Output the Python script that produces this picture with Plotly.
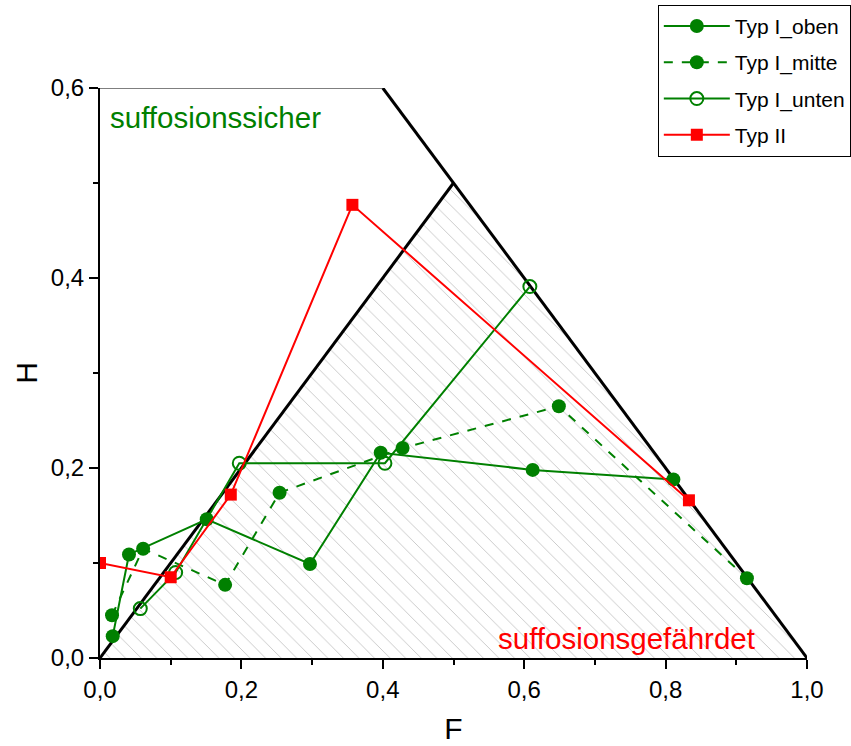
import plotly.graph_objects as go

# Measured points (F, H) for each soil type
F_OBEN = [0.018, 0.041, 0.151, 0.297, 0.397, 0.612, 0.811]
H_OBEN = [0.023, 0.109, 0.146, 0.099, 0.216, 0.198, 0.188]

F_MITTE = [0.017, 0.061, 0.177, 0.254, 0.428, 0.649, 0.915]
H_MITTE = [0.045, 0.115, 0.077, 0.174, 0.221, 0.265, 0.084]

F_UNTEN = [0.057, 0.107, 0.197, 0.403, 0.608]
H_UNTEN = [0.052, 0.090, 0.205, 0.205, 0.391]

F_TYP2 = [0.000, 0.100, 0.185, 0.357, 0.833]
H_TYP2 = [0.100, 0.085, 0.172, 0.477, 0.166]

# Domain boundaries of the F-H diagram
HATCH_F = [0.0, 0.5, 1.0, 0.0]
HATCH_H = [0.0, 0.5, 0.0, 0.0]
DIVIDER_F = [0.0, 0.5]
DIVIDER_H = [0.0, 0.5]
LIMIT_F = [0.4, 1.0]
LIMIT_H = [0.6, 0.0]
TOP_F = [0.0, 0.4]
TOP_H = [0.6, 0.6]

X_TICKS = [0.0, 0.2, 0.4, 0.6, 0.8, 1.0]
Y_TICKS = [0.0, 0.2, 0.4, 0.6]

GREEN = "#008000"
RED = "#ff0000"
FONT = "Liberation Sans, Arial, sans-serif"

fig = go.Figure()

# hatched "suffosion-prone" triangle
fig.add_trace(go.Scatter(
    x=HATCH_F, y=HATCH_H, mode="lines", fill="toself",
    line=dict(width=0), fillcolor="rgba(0,0,0,0)",
    fillpattern=dict(shape="\\", size=11, solidity=0.08,
                     fgcolor="#c4c4c4", bgcolor="white", fgopacity=1),
    showlegend=False, hoverinfo="skip"))

for fx, hy, w in [(DIVIDER_F, DIVIDER_H, 3), (LIMIT_F, LIMIT_H, 3), (TOP_F, TOP_H, 1.2)]:
    fig.add_trace(go.Scatter(x=fx, y=hy, mode="lines",
                             line=dict(color="black", width=w),
                             showlegend=False, hoverinfo="skip"))

fig.add_trace(go.Scatter(
    x=F_OBEN, y=H_OBEN, mode="lines+markers", name="Typ I_oben",
    line=dict(color=GREEN, width=2),
    marker=dict(symbol="circle", size=14, color=GREEN),
    legendgroup="a"))
fig.add_trace(go.Scatter(
    x=F_MITTE, y=H_MITTE, mode="lines+markers", name="Typ I_mitte",
    line=dict(color=GREEN, width=2, dash="dash"),
    marker=dict(symbol="circle", size=14, color=GREEN),
    legendgroup="b"))
fig.add_trace(go.Scatter(
    x=F_UNTEN, y=H_UNTEN, mode="lines+markers", name="Typ I_unten",
    line=dict(color=GREEN, width=2),
    marker=dict(symbol="circle-open", size=13, color=GREEN, line=dict(width=2)),
    legendgroup="c"))
fig.add_trace(go.Scatter(
    x=F_TYP2, y=H_TYP2, mode="lines+markers", name="Typ II",
    line=dict(color=RED, width=2),
    marker=dict(symbol="square", size=12, color=RED),
    legendgroup="d"))

fig.add_annotation(x=0.011, y=0.569, xref="x", yref="y", text="suffosionssicher",
                   showarrow=False, xanchor="left", yanchor="middle",
                   font=dict(family=FONT, size=29.5, color=GREEN))
fig.add_annotation(x=0.929, y=0.021, xref="x", yref="y", text="suffosionsgefährdet",
                   showarrow=False, xanchor="right", yanchor="middle",
                   font=dict(family=FONT, size=29.5, color=RED))

axis_common = dict(
    showgrid=False, zeroline=False, showline=True, linecolor="black", linewidth=2,
    ticks="outside", ticklen=9, tickwidth=2, tickcolor="black",
    tickformat=".1f", tickfont=dict(family=FONT, size=24, color="black"),
    minor=dict(ticks="outside", ticklen=5, tickwidth=2, tickcolor="black", dtick=0.1),
)

fig.update_xaxes(range=[0, 1], tickvals=X_TICKS,
                 title=dict(text="F", font=dict(family=FONT, size=30, color="black"), standoff=16),
                 **axis_common)
fig.update_yaxes(range=[0, 0.6], tickvals=Y_TICKS,
                 title=dict(text="H", font=dict(family=FONT, size=30, color="black"), standoff=4),
                 **axis_common)

fig.update_layout(
    width=851, height=746,
    margin=dict(l=100, r=44, t=88, b=88, autoexpand=False),
    plot_bgcolor="white", paper_bgcolor="white",
    separators=",.",
    font=dict(family=FONT, color="black"),
    legend=dict(x=0.789, y=1.146, xanchor="left", yanchor="top",
                bgcolor="white", bordercolor="black", borderwidth=1,
                font=dict(family=FONT, size=21, color="black"),
                traceorder="grouped", tracegroupgap=6, itemwidth=66),
)

fig.write_html("out.html")
